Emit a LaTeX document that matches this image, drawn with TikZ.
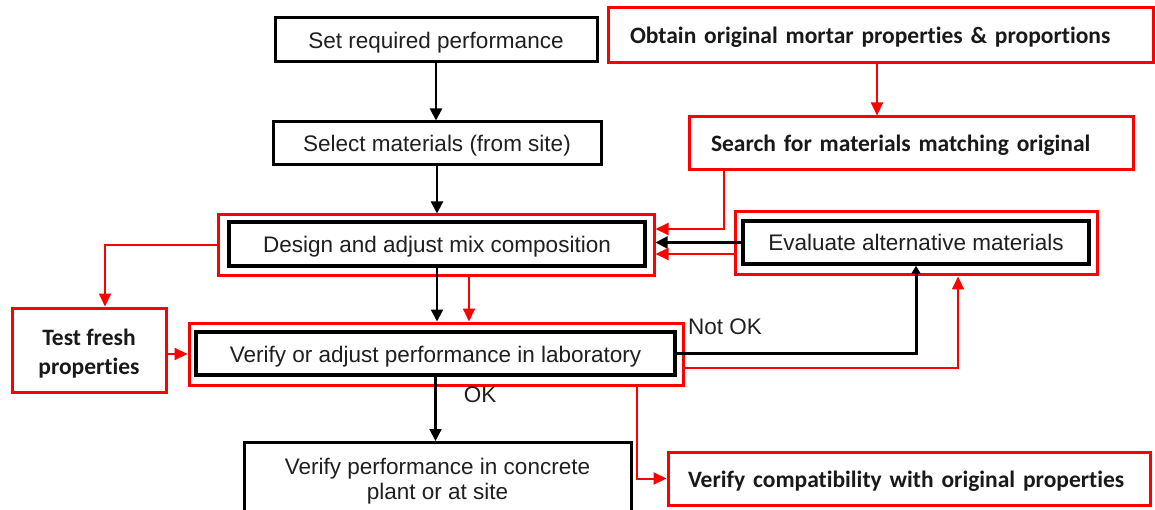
\documentclass[tikz,border=0pt]{standalone}
\usepackage{fontspec}
\setmainfont{Liberation Sans}
\newfontfamily\calib[Ligatures=NoCommon]{Carlito}
\usetikzlibrary{arrows.meta,calc}

\begin{document}
\begin{tikzpicture}[x=1pt,y=-1pt,
  every node/.style={inner sep=0pt},
  plain/.style={font=\fontsize{22.5pt}{25pt}\selectfont, text=black!88},
  oneline/.style={text height=19pt, text depth=2pt},
  box/.style={plain, draw=black, line width=3pt, fill=white},
  inbox/.style={plain, oneline, draw=black, line width=3.5pt, fill=white},
  redframe/.style={draw=red, line width=3pt},
  redbox/.style={draw=red, line width=3pt, fill=white, align=left,
    font=\calib\bfseries\fontsize{23.5pt}{29pt}\selectfont, text=black!90},
  blk/.style={draw=black, line width=2.2pt, -{Triangle[width=12pt,length=12pt]}},
  rd/.style={draw=red, line width=2pt, -{Triangle[width=12pt,length=13pt]}},
]
\useasboundingbox (0,0) rectangle (1155,510);
\clip (0,0) rectangle (1155,510);

% red frames around the shared steps
\node[redframe, minimum width=436pt, minimum height=61pt] (designOut) at (436,245.5) {};
\node[redframe, minimum width=362pt, minimum height=63pt] (evalOut) at (916,243.5) {};
\node[redframe, minimum width=494pt, minimum height=62pt] (verifyOut) at (436,354) {};

% main (black) process
\node[box, oneline, minimum width=322pt, minimum height=44pt] (set) at (436,40) {Set required performance};
\node[box, oneline, minimum width=328pt, minimum height=43pt] (select) at (437,143.5) {Select materials (from site)};
\node[inbox, minimum width=416pt, minimum height=44pt] (designIn) at (437,244) {Design and adjust mix composition};
\node[inbox, minimum width=346pt, minimum height=43pt] (evalIn) at (916,242.5) {Evaluate alternative materials};
\node[inbox, minimum width=479pt, minimum height=43pt] (verifyIn) at (435.5,353.5) {Verify or adjust performance in laboratory};
\node[box, minimum width=387pt, minimum height=100pt, anchor=north] (concrete) at (437.5,441) {};
\node[plain, align=center] (concreteText) at (437.5,481) {Verify performance in concrete\\plant or at site};

% added (red) steps
\node[redbox, oneline, text width=501pt, inner xsep=22pt, minimum height=55pt] (obtain) at (880.5,35.5) {Obtain original mortar properties \& proportions};
\node[redbox, oneline, text width=400pt, inner xsep=22pt, minimum height=53pt] (search) at (911,143.5) {Search for materials matching original};
\node[redbox, oneline, text width=442pt, inner xsep=20pt, minimum height=53pt] (compat) at (909,478.5) {Verify compatibility with original properties};
\node[redbox, align=center, text height=53.5pt, text depth=4.6pt, minimum width=154pt, minimum height=84pt] (test) at (89,350) {Test fresh\\properties};

% labels
\node[plain] (notok) at (725,327) {Not OK};
\node[plain] (ok) at (480,395) {OK};

% black connectors
\draw[blk] (set.south) -- (set.south |- select.north);
\draw[blk] (select.south) -- (select.south |- designOut.north);
\draw[blk] (designIn.south) -- (designIn.south |- verifyOut.north);
\draw[blk] (verifyIn.south) -- (verifyIn.south |- concrete.north);
\draw[blk] (evalIn.west) -- (evalIn.west -| designOut.east);
\draw[draw=black, line width=3pt, -{Triangle[width=9pt,length=8pt]}] (verifyIn.east) -| (evalIn.south);

% red connectors
\draw[rd] ([xshift=-3.5pt]obtain.south) -- ([xshift=-3.5pt]obtain.south |- search.north);
\draw[rd] ([xshift=-187pt]search.south) |- ([yshift=16.5pt]designOut.east);
\draw[rd] ([yshift=-10.5pt]evalOut.west) -- ([yshift=-10.5pt]evalOut.west -| designOut.east);
\draw[rd] (designOut.west) -| ([xshift=16pt]test.north);
\draw[rd] ([yshift=-4pt]test.east) -- ([yshift=-4pt]test.east -| verifyOut.west);
\draw[rd] ([xshift=33pt]designOut.south) -- ([xshift=33pt]designOut.south |- verifyOut.north);
\draw[rd] ([yshift=-14pt]verifyOut.east) -| ([xshift=42pt]evalOut.south);
\draw[rd] ([xshift=201pt]verifyOut.south) |- (compat.west);
\end{tikzpicture}
\end{document}
